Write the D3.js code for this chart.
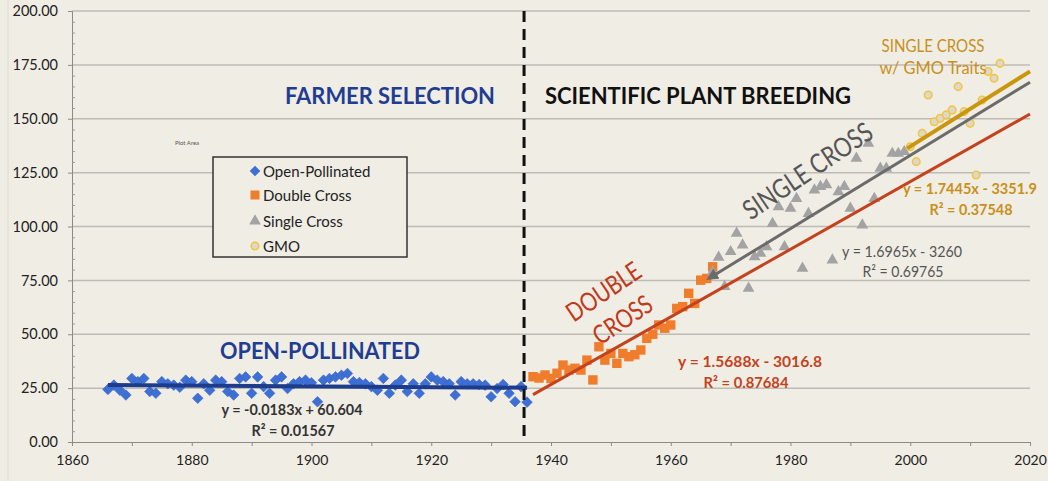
<!DOCTYPE html>
<html><head><meta charset="utf-8">
<script src="https://cdn.jsdelivr.net/npm/d3@7/dist/d3.min.js"></script>
<style>
html,body{margin:0;padding:0;background:#f0ede5;}
svg{display:block;}
text{font-family:Lato,"Open Sans",sans-serif;}
</style></head>
<body>
<svg id="c" width="1048" height="481"></svg>
<script>
// ---------- DATA ----------
const opYears = d3.range(1866, 1937);
const opValues = [24.4,26.4,24.0,21.8,29.5,28.0,29.5,23.4,22.6,28.0,
  27.0,26.4,25.4,28.7,28.0,20.3,27.0,24.0,28.7,28.0,
  23.4,21.8,29.5,30.2,22.6,30.2,25.7,22.6,28.7,30.2,
  24.8,27.0,28.0,28.7,27.5,18.7,28.7,29.5,30.2,31.0,
  31.8,28.0,27.6,27.0,25.7,24.0,29.5,22.6,26.4,28.7,
  23.4,27.0,22.6,27.0,30.2,28.7,28.0,27.0,21.8,28.0,
  27.0,27.0,26.7,26.4,21.0,24.8,26.7,22.6,18.7,25.7,18.5];
const dcYears = d3.range(1937, 1968);
const dcValues = [30.3,29.7,31.1,29.5,31.9,35.7,33.4,34.2,33.4,38.0,28.8,44.2,38.0,41.1,36.5,41.1,
  39.6,40.5,42.7,48.1,50.0,54.3,52.8,54.3,62.0,62.8,69.0,64.3,75.1,75.9,81.3];
const scYears = d3.range(1967, 2000);
const scValues = [79,85.7,72.1,88.3,96.8,91.4,71.3,85.9,87.5,90.6,101.4,109.1,90.6,108.4,113,80.6,
  106,116.9,118.5,119.3,84.4,116.1,118.5,108.4,131.6,100.7,138.6,113,127,127,133.9,133.9,134.7];
const gmoYears = d3.range(2000, 2016);
const gmoValues = [137,130.1,143.2,161,148.6,150.2,151.8,154.1,164.9,153.3,147.9,123.9,158.7,171.9,168.8,175.7];

const seriesNames = ["Open-Pollinated","Double Cross","Single Cross","GMO"];
const trendSlopes = [-0.0183, 1.5688, 1.6965, 1.7445];
const trendIntercepts = [60.604, -3016.8, -3260, -3351.9];
const trendStart = [1866, 1937, 1967.3, 1999.5];
const trendEnd = [1936, 2020, 2020, 2020];
const eqLabels = ["y = -0.0183x + 60.604","y = 1.5688x - 3016.8","y = 1.6965x - 3260","y = 1.7445x - 3351.9"];
const r2Labels = ["R² = 0.01567","R² = 0.87684","R² = 0.69765","R² = 0.37548"];
const yTicks = [0,25,50,75,100,125,150,175,200];
const xTicks = [1860,1870,1880,1890,1900,1910,1920,1930,1940,1950,1960,1970,1980,1990,2000,2010,2020];
const dividerYear = 1935.5;

// ---------- SETUP ----------
const svg = d3.select("#c");
const x = d3.scaleLinear().domain([1860, 2020]).range([72, 1030]);
const y = d3.scaleLinear().domain([0, 200]).range([442, 11]);
const FONT = 'Lato,"Open Sans",sans-serif';

svg.append("rect").attr("width",1048).attr("height",481).attr("fill","#f0ede5");
svg.append("line").attr("x1",8).attr("x2",8).attr("y1",0).attr("y2",481).attr("stroke","#dcd9d0").attr("stroke-width",1);

// gridlines
svg.append("g").selectAll("line").data(yTicks.filter(d=>d>0)).join("line")
  .attr("x1", x(1860)).attr("x2", x(2020))
  .attr("y1", d=>y(d)).attr("y2", d=>y(d))
  .attr("stroke","#bdbbb5").attr("stroke-width",1.5);

// Y axis
const yAx = svg.append("g").attr("transform",`translate(${x(1860)},0)`)
  .call(d3.axisLeft(y).tickValues(yTicks).tickFormat(d3.format(".2f")).tickSize(4).tickPadding(10));
yAx.select(".domain").attr("stroke","#8a8a8a");
yAx.selectAll(".tick line").attr("stroke","#8a8a8a");
yAx.selectAll("text").attr("font-family",FONT).attr("font-size",14.5).attr("fill","#222");
const yMinor = svg.append("g").attr("transform",`translate(${x(1860)},0)`)
  .call(d3.axisRight(y).tickValues(d3.range(0,201,5).filter(d=>d%25!==0)).tickFormat("").tickSize(3));
yMinor.select(".domain").remove();
yMinor.selectAll(".tick line").attr("stroke","#9a9a9a");

// X axis
const xAx = svg.append("g").attr("transform",`translate(0,${y(0)})`)
  .call(d3.axisBottom(x).tickValues(xTicks).tickFormat(d=> d%20===0 ? d : "").tickSize(4).tickPadding(9));
xAx.select(".domain").attr("stroke","#8a8a8a");
xAx.selectAll(".tick line").attr("stroke","#8a8a8a");
xAx.selectAll("text").attr("font-family",FONT).attr("font-size",14).attr("fill","#222");

// ---------- POINTS ----------
const zip = (a,b)=>a.map((v,i)=>({yr:v,val:b[i]}));
const diamond = "M0,-5.3L5.3,0L0,5.3L-5.3,0Z";
svg.append("g").selectAll("path").data(zip(opYears,opValues)).join("path")
  .attr("d",diamond).attr("transform",d=>`translate(${x(d.yr)},${y(d.val)})`)
  .attr("fill","#3d6fd4").attr("stroke","#3563c4").attr("stroke-width",0.6);
svg.append("g").selectAll("rect").data(zip(dcYears,dcValues)).join("rect")
  .attr("x",d=>x(d.yr)-4.7).attr("y",d=>y(d.val)-4.7).attr("width",9.4).attr("height",9.4)
  .attr("fill","#f07d2c");
const tri = d3.symbol().type(d3.symbolTriangle).size(60);
svg.append("g").selectAll("path").data(zip(scYears,scValues)).join("path")
  .attr("d",tri).attr("transform",d=>`translate(${x(d.yr)},${y(d.val)})`)
  .attr("fill","#a3a3a3");
svg.append("g").selectAll("circle").data(zip(gmoYears,gmoValues)).join("circle")
  .attr("cx",d=>x(d.yr)).attr("cy",d=>y(d.val)).attr("r",3.8)
  .attr("fill","#dcd8cd").attr("stroke","#f3c53a").attr("stroke-width",1.5);

// ---------- TRENDLINES ----------
const defs = svg.append("defs");
defs.append("marker").attr("id","arr").attr("viewBox","0 0 10 10").attr("refX",2).attr("refY",5)
  .attr("markerWidth",4).attr("markerHeight",4).attr("orient","auto-start-reverse")
  .append("path").attr("d","M0,0L10,5L0,10Z").attr("fill","#6b6b6b");
const trendColors = ["#1e3c8c","#c4421c","#6b6b6b","#c9960c"];
const trendWidths = [4,3,3,4];
trendSlopes.forEach((m,i)=>{
  const l = svg.append("line")
    .attr("x1",x(trendStart[i])).attr("y1",y(m*trendStart[i]+trendIntercepts[i]))
    .attr("x2",x(trendEnd[i])).attr("y2",y(m*trendEnd[i]+trendIntercepts[i]))
    .attr("stroke",trendColors[i]).attr("stroke-width",trendWidths[i]);
  if(i===2) l.attr("marker-start","url(#arr)");
});

// divider
svg.append("line").attr("x1",x(dividerYear)).attr("x2",x(dividerYear)).attr("y1",y(200)).attr("y2",y(0))
  .attr("stroke","#111").attr("stroke-width",3).attr("stroke-dasharray","11,7");

// ---------- TEXT ----------
function label(txt, cx, by, width, opts){
  opts = opts||{};
  const t = svg.append("text").text(txt).attr("font-family",FONT)
    .attr("font-size",20).attr("font-weight",opts.bold?"bold":"normal")
    .attr("fill",opts.color||"#222").attr("text-anchor","middle");
  if(opts.size){
    t.attr("font-size",opts.size).attr("textLength",width).attr("lengthAdjust","spacingAndGlyphs");
  } else {
    const w = t.node().getComputedTextLength();
    t.attr("font-size", 20*width/w);
  }
  if(opts.rot!==undefined){
    t.attr("dominant-baseline","central").attr("transform",`translate(${cx},${by}) rotate(${opts.rot})`);
  } else {
    t.attr("x",cx).attr("y",by);
  }
  return t;
}
label("FARMER SELECTION", 390, 104, 210, {bold:true,color:"#1f3d91",size:23});
label("SCIENTIFIC PLANT BREEDING", 698, 104, 306, {bold:true,color:"#111",size:23});
label("OPEN-POLLINATED", 320, 359, 200, {bold:true,color:"#1f3d91",size:22});
label("DOUBLE", 603, 291, 84, {color:"#c0391b",rot:-34,size:26});
label("CROSS", 622, 319, 66, {color:"#c0391b",rot:-34,size:26});
label("SINGLE CROSS", 807, 170, 150, {color:"#555",rot:-34,size:27});
label("SINGLE CROSS", 933, 52, 103, {color:"#c8901a",size:17.5});
label("w/ GMO Traits", 933, 74, 107, {color:"#c8901a",size:17.5});

const eqX = [292, 750, 902, 970];
const eqY = [415, 367, 257, 194];
const eqW = [141, 144, 120, 134];
const r2X = [293, 746, 903, 971];
const r2Y = [436, 388, 277, 215];
const r2W = [83, 85, 81, 83];
const eqColor = ["#333","#c4421c","#555","#c8901a"];
const eqBold = [true,true,false,true];
eqLabels.forEach((e,i)=>{
  label(e, eqX[i], eqY[i], eqW[i], {bold:eqBold[i], color:eqColor[i], size:15});
  label(r2Labels[i], r2X[i], r2Y[i], r2W[i], {bold:eqBold[i], color:eqColor[i], size:15});
});

svg.append("text").text("Plot Area").attr("x",175).attr("y",145).attr("font-family",FONT)
  .attr("font-size",6).attr("fill","#555");

// ---------- LEGEND ----------
const lg = svg.append("g");
lg.append("rect").attr("x",213).attr("y",157).attr("width",194).attr("height",100)
  .attr("fill","#f0ede5").attr("stroke","#333").attr("stroke-width",1.5);
const rowY = [171,195,221,246];
const mk = lg.selectAll("g.it").data(seriesNames).join("g").attr("class","it")
  .attr("transform",(d,i)=>`translate(255,${rowY[i]})`);
mk.each(function(d,i){
  const g = d3.select(this);
  if(i===0) g.append("path").attr("d",diamond).attr("fill","#3d6fd4");
  if(i===1) g.append("rect").attr("x",-4.5).attr("y",-4.5).attr("width",9).attr("height",9).attr("fill","#f07d2c");
  if(i===2) g.append("path").attr("d",tri).attr("fill","#a3a3a3");
  if(i===3) g.append("circle").attr("r",3.8).attr("fill","#dcd8cd").attr("stroke","#f3c53a").attr("stroke-width",1.5);
  g.append("text").text(d).attr("x",8).attr("y",5.5).attr("font-family",FONT).attr("font-size",15).attr("fill","#222");
});
</script>
</body></html>
